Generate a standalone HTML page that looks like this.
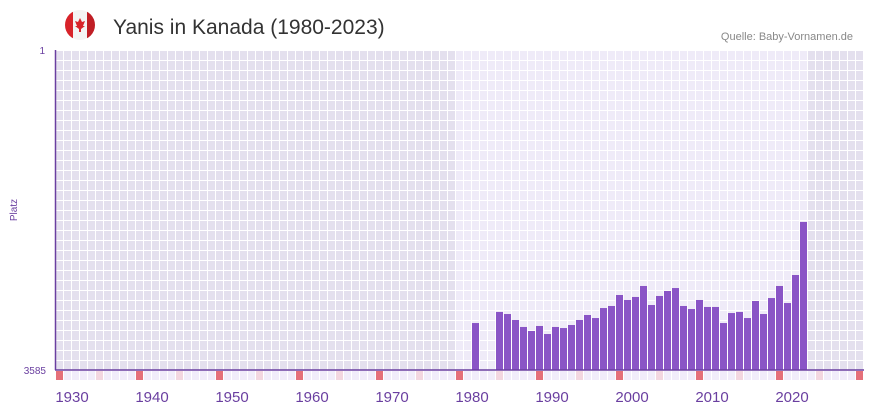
<!DOCTYPE html>
<html><head><meta charset="utf-8">
<style>
body{margin:0;background:#fff;font-family:"Liberation Sans",sans-serif;}
svg{display:block}
</style></head>
<body>
<svg id="c" width="873" height="412" viewBox="0 0 873 412">
  <g>
    <clipPath id="fc"><circle cx="80" cy="25" r="15"/></clipPath>
    <g clip-path="url(#fc)">
      <rect x="65" y="10" width="30" height="30" fill="#f4f4f4"/>
      <rect x="65" y="10" width="8" height="30" fill="#d8232a"/>
      <rect x="87" y="10" width="8" height="30" fill="#c01e25"/>
      <path d="M80 18 L82 22 L85 21 L83 26 L85 26 L81 29 L81 32 L79 32 L79 29 L75 26 L77 26 L75 21 L78 22 Z" fill="#d8232a"/>
    </g>
  </g>
  <text x="113" y="34" font-size="21" fill="#333">Yanis in Kanada (1980-2023)</text>
  <text x="853" y="40" font-size="11" fill="#888" text-anchor="end">Quelle: Baby-Vornamen.de</text>
  <text transform="translate(17,210) rotate(-90)" font-size="10" fill="#6a3fa0" text-anchor="middle">Platz</text>
  <text x="45" y="54" font-size="10" fill="#6a3fa0" text-anchor="end">1</text>
  <text x="46" y="374" font-size="10" fill="#6a3fa0" text-anchor="end">3585</text>
  <g id="bg"></g>
  <g id="bars"></g>
  <g id="strip"></g>
  <g id="xt"></g>
  <line x1="55.5" y1="50" x2="55.5" y2="370" stroke="#6a3fa0" stroke-width="1.5"/>
  <line x1="55" y1="370" x2="864" y2="370" stroke="#6a3fa0" stroke-width="1.5"/>
</svg>
<script>
const years=[1980,1983,1984,1985,1986,1987,1988,1989,1990,1991,1992,1993,1994,1995,1996,1997,1998,1999,2000,2001,2002,2003,2004,2005,2006,2007,2008,2009,2010,2011,2012,2013,2014,2015,2016,2017,2018,2019,2020,2021];
const ranks=[3059,2935,2958,3025,3103,3148,3092,3182,3103,3115,3081,3025,2969,3003,2891,2868,2745,2801,2767,2644,2857,2756,2700,2667,2868,2902,2801,2879,2879,3059,2947,2935,3003,2812,2958,2779,2644,2835,2521,1927];
const xTicks=[1930,1940,1950,1960,1970,1980,1990,2000,2010,2020];
const yMin=1, yMax=3585, firstYear=1928, lastYear=2028;
const NS='http://www.w3.org/2000/svg';
function xs(y){return 56+(y-firstYear)*8;}
function ys(r){return 50+(r-yMin)/(yMax-yMin)*320;}
function mk(t,a,p){const e=document.createElementNS(NS,t);for(const k in a)e.setAttribute(k,a[k]);p.appendChild(e);return e;}
const bg=document.getElementById('bg');
for(let y=firstYear;y<=lastYear;y++){
  const light=(y>=1978&&y<=2021);
  for(let r=0;r<32;r++){
    const c=mk('rect',{x:xs(y),y:50+r*10+1,width:7,height:9,fill:light?'#efebf8':'#e4e0ee'},bg);
    
    
  }
}
const bars=document.getElementById('bars');
years.forEach((yr,i)=>{
  const t=ys(ranks[i]);
  const b=mk('rect',{x:xs(yr),y:t,width:7,height:370-t,fill:'#8a55c6'},bars);
  
  
});
const strip=document.getElementById('strip');
for(let y=firstYear;y<=lastYear;y++){
  const d=(y-firstYear)%10;
  const col=d===0?'#e5707a':(d===5?'#f3d6e0':'#f1ecfa');
  const s=mk('rect',{x:xs(y),y:371,width:7,height:9,fill:col},strip);
  
  
}
const xt=document.getElementById('xt');
xTicks.forEach(t=>{
  const e=mk('text',{x:xs(t),y:402,'font-size':15,fill:'#6a3fa0','text-anchor':'middle'},xt);
  e.textContent=t;
  
  
});
</script>
</body></html>
